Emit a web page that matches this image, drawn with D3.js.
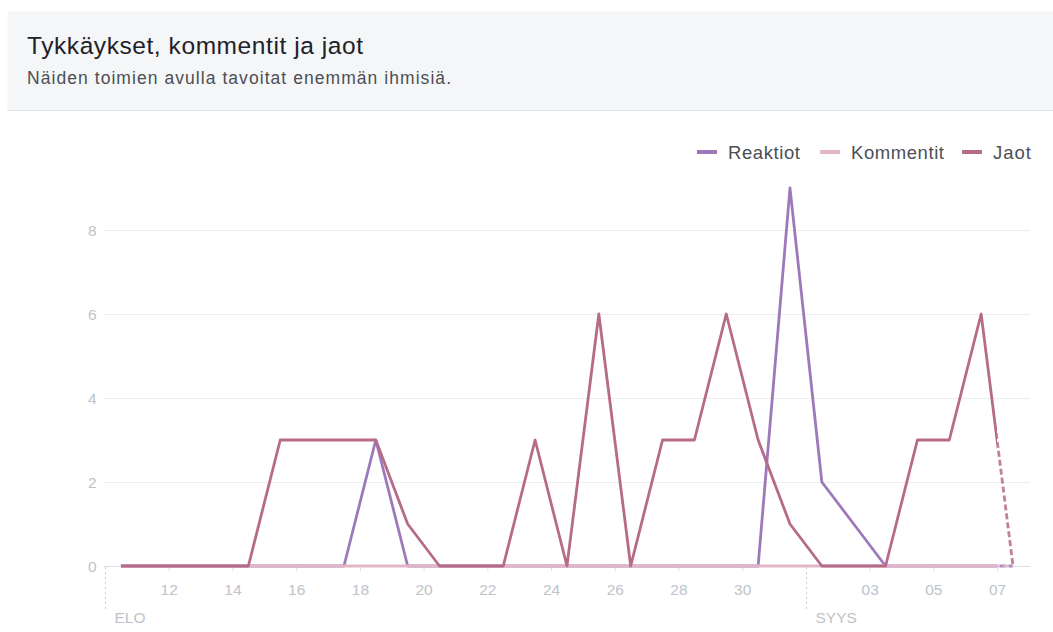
<!DOCTYPE html>
<html>
<head>
<meta charset="utf-8">
<script src="https://cdn.jsdelivr.net/npm/d3@7"></script>
<style>
  html, body { margin: 0; padding: 0; background: #fff; }
  svg { display: block; font-family: "Liberation Sans", Arial, sans-serif; }
</style>
</head>
<body>
<svg id="chart" width="1053" height="632"></svg>
<script>
// Daily values, one entry per day (plotted at noon)
const days = [
  "2018-08-10","2018-08-11","2018-08-12","2018-08-13","2018-08-14","2018-08-15",
  "2018-08-16","2018-08-17","2018-08-18","2018-08-19","2018-08-20","2018-08-21",
  "2018-08-22","2018-08-23","2018-08-24","2018-08-25","2018-08-26","2018-08-27",
  "2018-08-28","2018-08-29","2018-08-30","2018-08-31","2018-09-01","2018-09-02",
  "2018-09-03","2018-09-04","2018-09-05","2018-09-06","2018-09-07"
];
const reaktiot  = [0,0,0,0,0,0,0,0,3,0,0,0,0,0,0,0,0,0,0,0,0,9,2,1,0,0,0,0,0];
const kommentit = [0,0,0,0,0,0,0,0,0,0,0,0,0,0,0,0,0,0,0,0,0,0,0,0,0,0,0,0,0];
const jaot      = [0,0,0,0,0,3,3,3,3,1,0,0,0,3,0,6,0,3,3,6,3,1,0,0,0,3,3,6,0];

const seriesNames  = ["Reaktiot", "Kommentit", "Jaot"];
const seriesValues = [reaktiot, kommentit, jaot];
const seriesColors = ["#9d79ba", "#e2b6c7", "#b66b89"];

const yTicks = [0, 2, 4, 6, 8];
const xTickDays = ["2018-08-12","2018-08-14","2018-08-16","2018-08-18","2018-08-20",
  "2018-08-22","2018-08-24","2018-08-26","2018-08-28","2018-08-30",
  "2018-09-03","2018-09-05","2018-09-07"];
const monthStarts = ["2018-08-10", "2018-09-01"];
const monthLabels = ["ELO", "SYYS"];
const partialFrom = "2018-09-07"; // current day, still incomplete

const title = "Tykkäykset, kommentit ja jaot";
const subtitle = "Näiden toimien avulla tavoitat enemmän ihmisiä.";

const parse = d3.timeParse("%Y-%m-%d");
const noon = s => d3.timeHour.offset(parse(s), 12);

const W = 1053;
const svg = d3.select("#chart");

// Header panel
svg.append("rect").attr("x", 7.5).attr("y", 11.5).attr("width", W - 7).attr("height", 99)
  .attr("fill", "#f5f6f7");
svg.append("line").attr("x1", 7).attr("x2", W).attr("y1", 110.5).attr("y2", 110.5)
  .attr("stroke", "#dddfe2");
svg.append("text").attr("x", 27).attr("y", 54).text(title)
  .attr("font-size", 24.5).attr("fill", "#1d2129")
  .attr("textLength", 336).attr("lengthAdjust", "spacing");
svg.append("text").attr("x", 27).attr("y", 83.5).text(subtitle)
  .attr("font-size", 17.5).attr("fill", "#4b4f56")
  .attr("textLength", 424).attr("lengthAdjust", "spacing");

// Scales
const dayW = 31.86;
const x = d3.scaleTime()
  .domain([parse("2018-08-10"), parse("2018-09-08")])
  .range([105, 105 + 29 * dayW]);
const y = d3.scaleLinear().domain([0, 9]).range([566, 188]);
const plotRight = 1030;

// Grid
svg.append("g").selectAll("line").data(yTicks.filter(v => v > 0)).join("line")
  .attr("x1", 105).attr("x2", plotRight)
  .attr("y1", d => Math.round(y(d)) + 0.5).attr("y2", d => Math.round(y(d)) + 0.5)
  .attr("stroke", "#ebedf0");

// Y axis labels
svg.append("g").selectAll("text").data(yTicks).join("text")
  .attr("x", 96.5).attr("y", d => y(d) + 5.5)
  .attr("text-anchor", "end").attr("font-size", 15.5).attr("fill", "#bec3c9")
  .text(d => d);

// X axis
const xAxis = d3.axisBottom(x)
  .tickValues(xTickDays.map(parse))
  .tickFormat(d3.timeFormat("%d"))
  .tickSize(5).tickPadding(13);
const gx = svg.append("g").attr("transform", "translate(0,566)").call(xAxis);
gx.select(".domain").attr("d", `M104,0.5H${plotRight}`).attr("stroke", "#dddfe2");
gx.selectAll(".tick line").attr("stroke", "#dddfe2");
gx.selectAll(".tick text").attr("fill", "#bec3c9").attr("font-size", 15.5)
  .attr("font-family", "Liberation Sans, Arial, sans-serif");

// Month markers
monthStarts.forEach((m, i) => {
  const mx = Math.round(x(parse(m))) + 0.5;
  svg.append("line").attr("x1", mx).attr("x2", mx).attr("y1", 567).attr("y2", 611)
    .attr("stroke", "#c8ccd2").attr("stroke-dasharray", "2,3");
  svg.append("text").attr("x", mx + 9).attr("y", 622.5).text(monthLabels[i])
    .attr("font-size", 15.5).attr("fill", "#bec3c9");
});

// Lines: solid up to the start of the incomplete day, dashed after it
const cut = x(parse(partialFrom));
const defs = svg.append("defs");
defs.append("clipPath").attr("id", "solidPart").append("rect")
  .attr("x", 0).attr("y", 0).attr("width", cut).attr("height", 632);
defs.append("clipPath").attr("id", "dashPart").append("rect")
  .attr("x", cut).attr("y", 0).attr("width", W - cut).attr("height", 632);

const line = d3.line().x(d => x(d[0])).y(d => y(d[1]));
const lines = svg.append("g");
seriesValues.forEach((vals, i) => {
  const pts = days.map((d, j) => [noon(d), vals[j]]);
  lines.append("path").attr("d", line(pts)).attr("fill", "none")
    .attr("stroke", seriesColors[i]).attr("stroke-width", 2.8)
    .attr("stroke-linejoin", "round").attr("clip-path", "url(#solidPart)");
  lines.append("path").attr("d", line(pts)).attr("fill", "none")
    .attr("stroke", seriesColors[i]).attr("stroke-width", 2.8)
    .attr("stroke-opacity", 0.85)
    .attr("stroke-dasharray", "6,3").attr("clip-path", "url(#dashPart)");
});

// Legend
const legendX = [697, 820, 962];
const legendW = [72, 93, 38];
const lg = svg.append("g");
seriesNames.forEach((n, i) => {
  lg.append("line").attr("x1", legendX[i]).attr("x2", legendX[i] + 20)
    .attr("y1", 152).attr("y2", 152)
    .attr("stroke", seriesColors[i]).attr("stroke-width", 4);
  lg.append("text").attr("x", legendX[i] + 31).attr("y", 158.5).text(n)
    .attr("font-size", 18.5).attr("fill", "#4b4f56")
    .attr("textLength", legendW[i]).attr("lengthAdjust", "spacing");
});
</script>
</body>
</html>
